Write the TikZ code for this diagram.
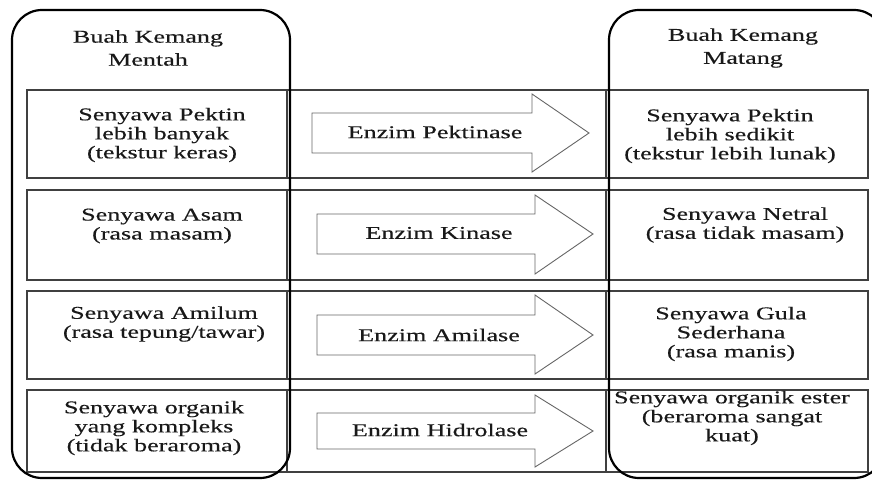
\documentclass[tikz,border=0pt]{standalone}
\usepackage{fontspec}
\setmainfont{Liberation Serif}[FakeStretch=1.45]
\newfontfamily\diagfont{Liberation Serif}[FakeStretch=1.45,FakeBold=0.35]
\begin{document}
\begin{tikzpicture}[x=1pt,y=-1pt,
  cell/.style={draw=black!75, line width=1.2pt, inner sep=0pt},
  frame/.style={draw=black, line width=2.2pt, rounded corners=30pt},
  txt/.style={align=center, inner sep=0pt, text=black!90,
    font=\diagfont\fontsize{18}{19}\selectfont},
  headtxt/.style={txt, font=\diagfont\fontsize{18}{23}\selectfont},
  enzarrow/.style={draw=black!60, line width=0.9pt, fill=white, line join=miter},
]
\useasboundingbox (0,0) rectangle (872,481);
\clip (0,0) rectangle (872,481);

% rows: left cell, middle cell, right cell
\node[cell, minimum width=260pt, minimum height=88pt] (L1) at (157,134) {};
\node[cell, minimum width=319pt, minimum height=88pt] (M1) at (446.5,134) {};
\node[cell, minimum width=262pt, minimum height=88pt] (R1) at (737,134) {};

\node[cell, minimum width=260pt, minimum height=90pt] (L2) at (157,235) {};
\node[cell, minimum width=319pt, minimum height=90pt] (M2) at (446.5,235) {};
\node[cell, minimum width=262pt, minimum height=90pt] (R2) at (737,235) {};

\node[cell, minimum width=260pt, minimum height=88pt] (L3) at (157,335) {};
\node[cell, minimum width=319pt, minimum height=88pt] (M3) at (446.5,335) {};
\node[cell, minimum width=262pt, minimum height=88pt] (R3) at (737,335) {};

\node[cell, minimum width=260pt, minimum height=82pt] (L4) at (157,431) {};
\node[cell, minimum width=319pt, minimum height=82pt] (M4) at (446.5,431) {};
\node[cell, minimum width=262pt, minimum height=82pt] (R4) at (737,431) {};

% the two rounded column frames
\draw[frame] (12,10) rectangle (290,478);
\draw[frame] (609,10) rectangle (884,478);

% block arrows
\draw[enzarrow] (312,113) -- (532,113) -- (532,94) -- (589,133) -- (532,172) -- (532,153) -- (312,153) -- cycle;
\draw[enzarrow] (317,214) -- (535,214) -- (535,195) -- (593,234) -- (535,274) -- (535,254) -- (317,254) -- cycle;
\draw[enzarrow] (317,315) -- (535,315) -- (535,295) -- (593,335) -- (535,374) -- (535,355) -- (317,355) -- cycle;
\draw[enzarrow] (317,413) -- (535,413) -- (535,395) -- (593,431) -- (535,467) -- (535,449) -- (317,449) -- cycle;

% column headings
\node[headtxt] (hl) at (148,48) {Buah Kemang\\Mentah};
\node[headtxt] (hr) at (743,48) {Buah Kemang\\Matang};

% row texts
\node[txt] (t1l) at (162,135) {Senyawa Pektin\\lebih banyak\\(tekstur keras)};
\node[txt] (e1) at (435,132) {Enzim Pektinase};
\node[txt] (t1r) at (730,136) {Senyawa Pektin\\lebih sedikit\\(tekstur lebih lunak)};

\node[txt] (t2l) at (162,226) {Senyawa Asam\\(rasa masam)};
\node[txt] (e2) at (439,233) {Enzim Kinase};
\node[txt] (t2r) at (745,225) {Senyawa Netral\\(rasa tidak masam)};

\node[txt] (t3l) at (164,324) {Senyawa Amilum\\(rasa tepung/tawar)};
\node[txt] (e3) at (439,335) {Enzim Amilase};
\node[txt] (t3r) at (731,334) {Senyawa Gula\\Sederhana\\(rasa manis)};

\node[txt] (t4l) at (154,428) {Senyawa organik\\yang kompleks\\(tidak beraroma)};
\node[txt] (e4) at (440,430) {Enzim Hidrolase};
\node[txt] (t4r) at (732,418) {Senyawa organik ester\\(beraroma sangat\\kuat)};
\end{tikzpicture}
\end{document}
